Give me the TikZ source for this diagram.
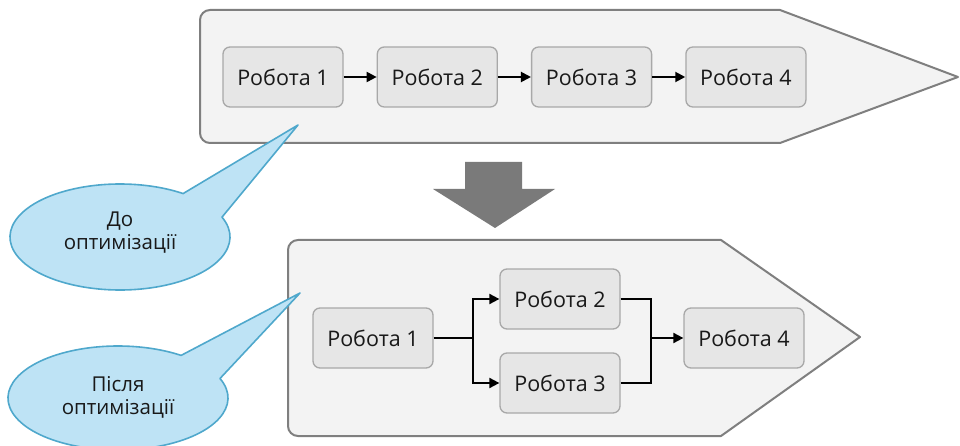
\documentclass[tikz,border=0pt]{standalone}
\usepackage{fontspec}
\setmainfont{Open Sans}
\usepackage{tikz}
\usetikzlibrary{arrows.meta, positioning, calc}
\definecolor{lanefill}{HTML}{F3F3F3}
\definecolor{laneline}{HTML}{7F7F7F}
\definecolor{jobfill}{HTML}{E6E6E6}
\definecolor{jobline}{HTML}{A8A8A8}
\definecolor{bubblefill}{HTML}{BEE3F5}
\definecolor{bubbleline}{HTML}{4FA8CC}
\definecolor{bigarrow}{HTML}{7A7A7A}
\tikzset{
	lane/.style={draw=laneline, fill=lanefill, line width=2pt, line join=round},
	job/.style={rectangle, rounded corners=7pt, draw=jobline, fill=jobfill, line width=1.3pt,
		minimum width=120pt, minimum height=60pt, font=\fontsize{21.5}{24}\selectfont, text=black!90},
	flow/.style={-{Triangle[length=10pt, width=10pt]}, line width=2pt},
	bubble/.style={draw=bubbleline, fill=bubblefill, line width=1.6pt, line join=round},
	bubbletext/.style={align=center, font=\fontsize{20.5}{23}\selectfont, text=black!90}
}
\begin{document}
\begin{tikzpicture}[x=1pt, y=-1pt]
		\useasboundingbox (0,0) rectangle (960,446);
		
		% Lanes
		\draw[lane] (780,10) -- (958,77) -- (780,143) [rounded corners=10pt] -- (200,143) -- (200,10) [sharp corners] -- cycle;
		\draw[lane] (721,240) -- (860,337) -- (721,436) [rounded corners=10pt] -- (288,436) -- (288,240) [sharp corners] -- cycle;
		
		% Big arrow between lanes
		\fill[bigarrow] (465,162) -- (522,162) -- (522,189) -- (555,189) -- (495,228) -- (433,189) -- (465,189) -- cycle;
		
		% Before: sequential jobs
		\node[job] (t1) at (283,77) {Робота 1};
		\node[job, right=33pt of t1] (t2) {Робота 2};
		\node[job, right=33pt of t2] (t3) {Робота 3};
		\node[job, right=33pt of t3] (t4) {Робота 4};
		
		\draw[flow] (t1) -- (t2);
		\draw[flow] (t2) -- (t3);
		\draw[flow] (t3) -- (t4);
		
		% After: parallel jobs
		\node[job] (b1) at (373,338) {Робота 1};
		\node[job] (b2) at (560,299) {Робота 2};
		\node[job] (b3) at (560,383) {Робота 3};
		\node[job] (b4) at (744,338) {Робота 4};
		
		\coordinate (split) at (473,338);
		\coordinate (join) at (651,338);
		\draw[line width=2pt] (b1) -- (split);
		\draw[flow] (split) |- (b2);
		\draw[flow] (split) |- (b3);
		\draw[line width=2pt] (b2) -| (join);
		\draw[line width=2pt] (b3) -| (join);
		\draw[flow] (join) -- (b4);
		
		% Callouts
		\coordinate (c1) at (120,237);
		\coordinate (tip1) at (298,125);
		\draw[bubble] ($(c1)+(55:110pt and 53pt)$) -- (tip1) -- ($(c1)+(22:110pt and 53pt)$)
			arc[start angle=22, end angle=-305, x radius=110pt, y radius=53pt] -- cycle;
		\node[bubbletext] (before) at (120,233) {До\\оптимізації};
		
		\coordinate (c2) at (118,398);
		\coordinate (tip2) at (300,293);
		\draw[bubble] ($(c2)+(55:110pt and 52pt)$) -- (tip2) -- ($(c2)+(22:110pt and 52pt)$)
			arc[start angle=22, end angle=-305, x radius=110pt, y radius=52pt] -- cycle;
		\node[bubbletext] (after) at (118,397) {Після\\оптимізації};
		
	\end{tikzpicture}
\end{document}
